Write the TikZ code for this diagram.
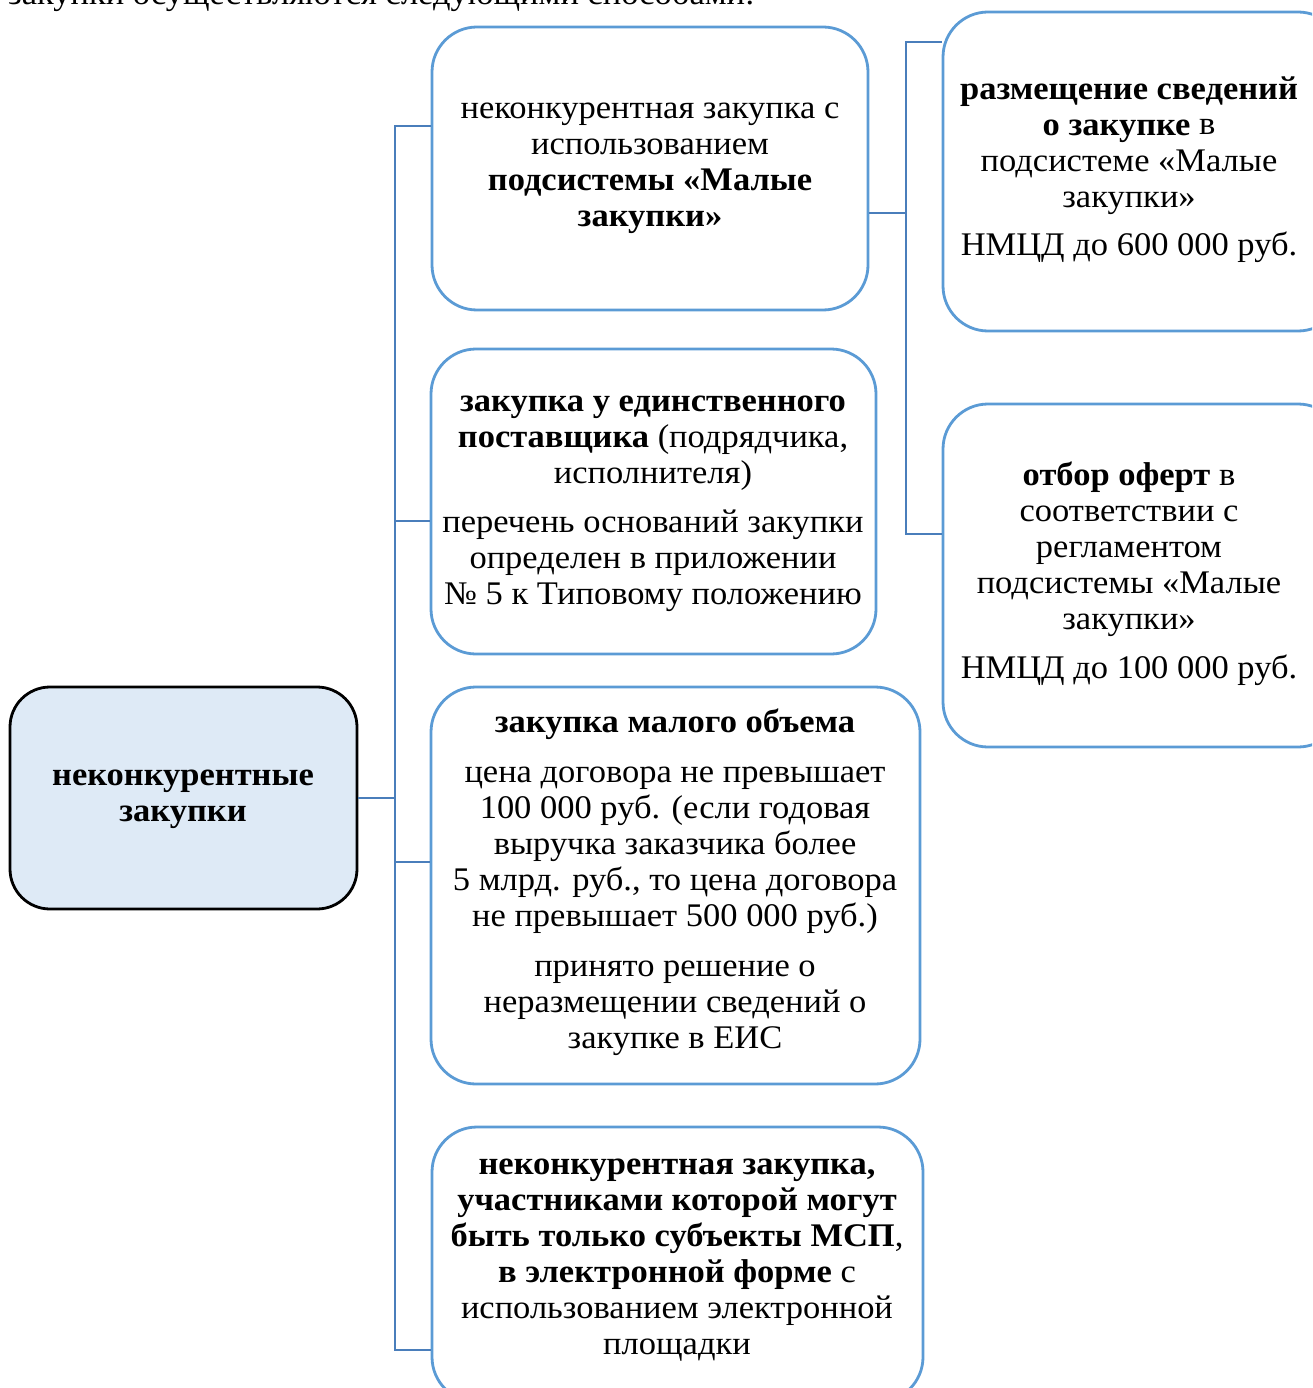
\documentclass[tikz,border=0pt]{standalone}
\usepackage{fontspec}
\setmainfont[FakeStretch=1.045]{Liberation Serif}
\definecolor{boxblue}{HTML}{5B9BD5}
\definecolor{linkblue}{HTML}{4A7EBB}
\definecolor{fillblue}{HTML}{DEEAF6}
\begin{document}
\begin{tikzpicture}[x=1pt,y=-1pt,
  bbox/.style={draw=boxblue,line width=2.8pt,rounded corners=45pt,fill=white,inner sep=0pt},
  mainbox/.style={draw=black,line width=2.8pt,rounded corners=40pt,fill=fillblue,inner sep=0pt},
  txt/.style={align=center,font=\fontsize{33}{36}\selectfont,inner sep=0pt},
  link/.style={draw=linkblue,line width=2.8pt}]
\useasboundingbox (0,0) rectangle (1312,1388);
\clip (0,0) rectangle (1312,1388);
\node[txt,anchor=base west] (head) at (8,5) {закупки осуществляются следующими способами:};
% boxes
\node[mainbox,minimum width=347pt,minimum height=222pt] (m) at (183.5,798) {};
\node[bbox,minimum width=436pt,minimum height=283pt] (a) at (650,168.5) {};
\node[bbox,minimum width=445pt,minimum height=305pt] (b) at (653.5,501.5) {};
\node[bbox,minimum width=489pt,minimum height=397pt] (c) at (675.5,885.5) {};
\node[bbox,minimum width=491pt,minimum height=275pt] (d) at (677.5,1264.5) {};
\node[bbox,minimum width=400pt,minimum height=319pt] (e) at (1143,171.5) {};
\node[bbox,minimum width=400pt,minimum height=343pt] (f) at (1143,575.5) {};
% texts (anchored at the baseline of their last line)
\node[txt,anchor=base] (mt) at (183,821) {\textbf{неконкурентные}\\\textbf{закупки}};
\node[txt,anchor=base] (at) at (650,227) {неконкурентная закупка с\\использованием\\\textbf{подсистемы «Малые}\\\textbf{закупки»}};
\node[txt,anchor=base] (bt) at (653,604) {\textbf{закупка у единственного}\\\textbf{поставщика} (подрядчика,\\исполнителя)\\[13pt]перечень оснований закупки\\определен в приложении\\№ 5 к Типовому положению};
\node[txt,anchor=base] (ct) at (675,1048) {\textbf{закупка малого объема}\\[14pt]цена договора не превышает\\100 000 руб. (если годовая\\выручка заказчика более\\5 млрд. руб., то цена договора\\не превышает 500 000 руб.)\\[14pt]принято решение о\\неразмещении сведений о\\закупке в ЕИС};
\node[txt,anchor=base] (dt) at (677,1354) {\textbf{неконкурентная закупка,}\\\textbf{участниками которой могут}\\\textbf{быть только субъекты МСП},\\\textbf{в электронной форме} с\\использованием электронной\\площадки};
\node[txt,anchor=base] (et) at (1129,255) {\textbf{размещение сведений}\\\textbf{о закупке} в\\подсистеме «Малые\\закупки»\\[12pt]НМЦД до 600 000 руб.};
\node[txt,anchor=base] (ft) at (1129,678) {\textbf{отбор оферт} в\\соответствии с\\регламентом\\подсистемы «Малые\\закупки»\\[13pt]НМЦД до 100 000 руб.};
% connectors
\coordinate (t1) at (395,126);
\coordinate (t2) at (395,1350);
\draw[link] (m.east) -- (395,798);
\draw[link] (a.west |- 0,126) -- (t1) -- (t2) -- (d.west |- 0,1350);
\draw[link] (395,521) -- (b.west |- 0,521);
\draw[link] (395,862) -- (c.west |- 0,862);
\draw[link] (a.east |- 0,213) -- (906,213);
\draw[link] (e.west |- 0,42) -- (906,42) -- (906,534) -- (f.west |- 0,534);
\end{tikzpicture}
\end{document}
